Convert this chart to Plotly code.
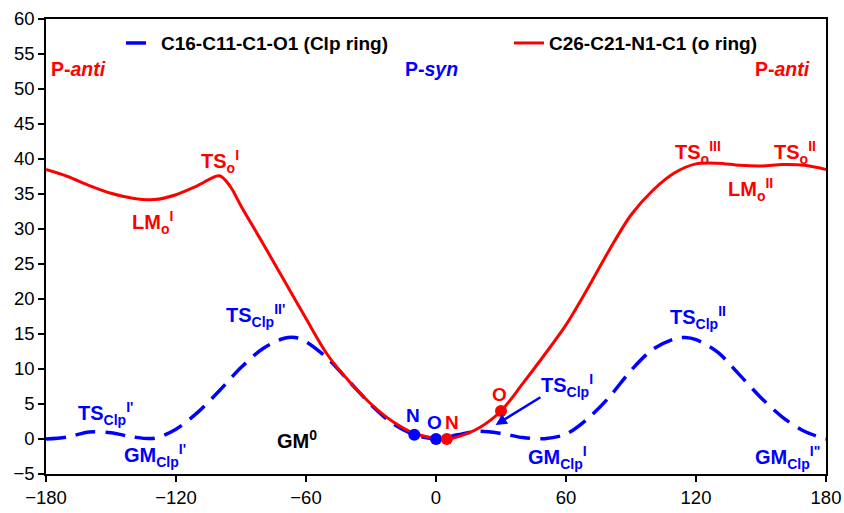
import plotly.graph_objects as go

# ---- data ----
clp_x = [-180, -170, -160, -150, -140, -130, -120, -110, -100, -90, -80, -70, -65, -60, -50, -40, -30, -20, -10,
         0, 10, 20, 30, 40, 50, 60, 70, 80, 90, 100, 110, 115, 120, 130, 140, 150, 160, 170, 180]
clp_y = [0.0, 0.3, 1.0, 0.9, 0.3, 0.1, 1.4, 3.8, 6.9, 10.2, 12.9, 14.4, 14.5, 13.9, 11.5, 8.2, 4.9, 2.2, 0.6,
         0.0, 0.6, 1.1, 0.8, 0.2, 0.05, 0.7, 2.9, 6.0, 9.8, 12.8, 14.3, 14.5, 14.2, 12.4, 9.2, 5.9, 3.1, 1.1, 0.0]

o_x = [-180, -170, -160, -150, -140, -130, -120, -110, -100, -95, -90, -80, -70, -60, -50, -40, -30, -20, -10,
       0, 5, 10, 20, 30, 40, 50, 60, 70, 80, 90, 100, 110, 120, 130, 140, 150, 160, 170, 180]
o_y = [38.5, 37.5, 36.2, 35.1, 34.4, 34.2, 34.9, 36.2, 37.6, 36.1, 33.3, 28.0, 22.6, 17.2, 12.0, 8.2, 5.0, 2.5, 0.8,
       0.1, 0.0, 0.3, 1.6, 4.0, 7.9, 12.0, 16.3, 21.5, 27.0, 32.0, 35.5, 38.0, 39.3, 39.4, 39.1, 39.0, 39.2, 39.1, 38.5]

clp_pts_x = [-10, 0]
clp_pts_y = [0.6, 0.0]
clp_pts_lbl = ["N", "O"]
o_pts_x = [5, 30]
o_pts_y = [0.0, 4.0]
o_pts_lbl = ["N", "O"]

x_ticks = [-180, -120, -60, 0, 60, 120, 180]
y_ticks = [-5, 0, 5, 10, 15, 20, 25, 30, 35, 40, 45, 50, 55, 60]

BLUE = "#0000FF"
RED = "#FF0000"
FONT = "Arial, Liberation Sans, sans-serif"

fig = go.Figure()
fig.add_trace(go.Scatter(x=clp_x, y=clp_y, mode="lines", name="<b>C16-C11-C1-O1 (Clp ring)</b>",
                         legend="legend",
                         line=dict(color=BLUE, width=3.5, dash="20px,10px", shape="spline", smoothing=0.9)))
fig.add_trace(go.Scatter(x=o_x, y=o_y, mode="lines", name="<b>C26-C21-N1-C1 (o ring)</b>",
                         legend="legend2",
                         line=dict(color=RED, width=3, shape="spline", smoothing=0.9)))
fig.add_trace(go.Scatter(x=clp_pts_x, y=clp_pts_y, mode="markers", showlegend=False,
                         marker=dict(color=BLUE, size=12)))
fig.add_trace(go.Scatter(x=o_pts_x, y=o_pts_y, mode="markers", showlegend=False,
                         marker=dict(color=RED, size=12)))

def lab(x, y, text, color, size=20):
    fig.add_annotation(x=x, y=y, xref="x", yref="y", text=text, showarrow=False,
                       font=dict(family=FONT, size=size, color=color), xanchor="center", yanchor="middle")

lab(-165, 52.9, "<b>P-<i>anti</i></b>", RED, 19.5)
lab(-2.3, 52.9, "<b>P-<i>syn</i></b>", BLUE, 19.5)
lab(160, 52.9, "<b>P-<i>anti</i></b>", RED, 19.5)

lab(-99.5, 39.6, "<b>TS<sub>o</sub><sup>I</sup></b>", RED)
lab(-131, 31.0, "<b>LM<sub>o</sub><sup>I</sup></b>", RED)
lab(120.7, 40.9, "<b>TS<sub>o</sub><sup>III</sup></b>", RED)
lab(165.9, 40.9, "<b>TS<sub>o</sub><sup>II</sup></b>", RED)
lab(145, 35.6, "<b>LM<sub>o</sub><sup>II</sup></b>", RED)

lab(-83.5, 17.6, "<b>TS<sub>Clp</sub><sup>II'</sup></b>", BLUE)
lab(121, 17.3, "<b>TS<sub>Clp</sub><sup>II</sup></b>", BLUE)
lab(-152.6, 3.7, "<b>TS<sub>Clp</sub><sup>I'</sup></b>", BLUE)
lab(-129.5, -2.3, "<b>GM<sub>Clp</sub><sup>I'</sup></b>", BLUE)
lab(60.6, 7.7, "<b>TS<sub>Clp</sub><sup>I</sup></b>", BLUE)
lab(56, -2.6, "<b>GM<sub>Clp</sub><sup>I</sup></b>", BLUE)
lab(162, -2.6, "<b>GM<sub>Clp</sub><sup>I\"</sup></b>", BLUE)
lab(-64, -0.1, "<b>GM<sup>0</sup></b>", "black")

for xx, yy, t in zip(clp_pts_x, clp_pts_y, clp_pts_lbl):
    lab(xx - 0.6 if t == "N" else xx - 0.9, yy + (2.7 if t == "N" else 2.4), "<b>" + t + "</b>", BLUE, 19)
for xx, yy, t in zip(o_pts_x, o_pts_y, o_pts_lbl):
    lab(xx + 2.4 if t == "N" else xx - 0.8, yy + 2.4, "<b>" + t + "</b>", RED, 19)

fig.add_annotation(x=27.5, y=2.0, ax=48.9, ay=6.1, xref="x", yref="y", axref="x", ayref="y",
                   text="", showarrow=True, arrowhead=2, arrowsize=0.9, arrowwidth=2.5, arrowcolor=BLUE)

fig.update_xaxes(range=[-180, 180], tickvals=x_ticks, showgrid=False, zeroline=False, automargin=False,
                 showline=True, linecolor="black", linewidth=1.5, mirror=True,
                 ticks="outside", ticklen=6, tickcolor="black", tickwidth=1.5,
                 tickfont=dict(family=FONT, size=18.5, color="black"))
fig.update_yaxes(range=[-5, 60], tickvals=y_ticks, showgrid=False, zeroline=False, automargin=False,
                 showline=True, linecolor="black", linewidth=1.5, mirror=True,
                 ticks="outside", ticklen=6, tickcolor="black", tickwidth=1.5,
                 tickfont=dict(family=FONT, size=18.5, color="black"))

leg_common = dict(orientation="h", yanchor="middle", xanchor="left", bgcolor="rgba(0,0,0,0)",
                  font=dict(family=FONT, size=19, color="black"))
fig.update_layout(
    width=844, height=513,
    margin=dict(l=46, r=18, t=19, b=39, autoexpand=False),
    plot_bgcolor="white", paper_bgcolor="white",
    font=dict(family=FONT, size=18, color="black"),
    legend=dict(x=(121 - 46) / 780, y=0.947, **leg_common),
    legend2=dict(x=(509 - 46) / 780, y=0.947, **leg_common),
)

fig.write_html("out.html", config={"displayModeBar": False},
               post_script="document.body.style.margin='0px';")
